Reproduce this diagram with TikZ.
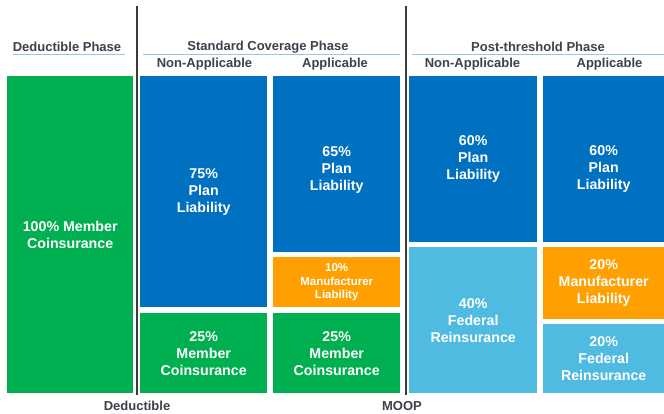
\documentclass[tikz,border=0pt]{standalone}
\usepackage{fontspec}
\setmainfont{Liberation Sans}
\definecolor{cgreen}{HTML}{00B050}
\definecolor{cblue}{HTML}{0070C0}
\definecolor{corange}{HTML}{FFA000}
\definecolor{clight}{HTML}{4FBBE0}
\definecolor{ctext}{HTML}{3C414B}
\definecolor{cline}{HTML}{9DC3E6}
\definecolor{cdiv}{HTML}{3A3A3A}
\tikzset{
  cell/.style={fill=#1, draw=none, inner sep=0pt, anchor=north west,
    text=white, align=center, font=\bfseries\fontsize{14.2}{17}\selectfont},
  smallcell/.style={cell=#1, font=\bfseries\fontsize{11.5}{13.5}\selectfont},
  phase/.style={text=ctext, font=\bfseries\fontsize{13}{15}\selectfont, inner sep=0pt},
  sub/.style={text=ctext, font=\bfseries\fontsize{13}{15}\selectfont, inner sep=0pt},
  rule/.style={draw=cline, line width=1pt},
  divider/.style={draw=cdiv, line width=2pt}
}
\newcommand{\cellbox}[7]{% style, name, x0, y0, x1, y1, text
  \node[#1, minimum width=#5pt-#3pt, minimum height=#6pt-#4pt] (#2) at (#3,#4) {};
  \node[#1, fill=none, anchor=center] at (#2.center) {#7};
}
\begin{document}
\begin{tikzpicture}[x=1pt, y=-1pt]
  \useasboundingbox (0,0) rectangle (664,414);
  \fill[white] (0,0) rectangle (664,414);

  % phase headings and their rules
  \node[phase] (hded) at (67,47) {Deductible Phase};
  \draw[rule] (13,55) -- (125,55);
  \node[phase] (hstd) at (268,47) {Standard Coverage Phase};
  \draw[rule] (143,55) -- (400,55);
  \node[phase] (hpost) at (538,47) {Post-threshold Phase};
  \draw[rule] (412,55) -- (664,55);

  % column headings
  \node[sub] (sna) at (204.5,64) {Non-Applicable};
  \node[sub] (sap) at (335,64) {Applicable};
  \node[sub] (pna) at (472.5,64) {Non-Applicable};
  \node[sub] (pap) at (609.5,64) {Applicable};

  % deductible phase
  \cellbox{cell=cgreen}{ded}{7}{76}{133}{393}{100\% Member\\Coinsurance}

  % standard coverage, non-applicable
  \cellbox{cell=cblue}{snab}{140}{76}{267}{307}{75\%\\Plan\\Liability}
  \cellbox{cell=cgreen}{snag}{140}{313}{267}{393}{25\%\\Member\\Coinsurance}

  % standard coverage, applicable
  \node[cell=cblue, minimum width=127pt, minimum height=176pt] (sab) at (273,76) {};
  \node[cell=cblue, fill=none, anchor=center] at ([yshift=-6pt]sab.center) {65\%\\Plan\\Liability};
  \cellbox{smallcell=corange}{sao}{273}{257}{400}{307}{10\%\\Manufacturer\\Liability}
  \cellbox{cell=cgreen}{sag}{273}{313}{400}{393}{25\%\\Member\\Coinsurance}

  % post-threshold, non-applicable
  \cellbox{cell=cblue}{pnab}{409}{76}{537}{242}{60\%\\Plan\\Liability}
  \cellbox{cell=clight}{pnal}{409}{247}{537}{393}{40\%\\Federal\\Reinsurance}

  % post-threshold, applicable
  \node[cell=cblue, minimum width=121pt, minimum height=166pt] (pab) at (543,76) {};
  \node[cell=cblue, fill=none, anchor=center] at ([yshift=-10pt]pab.center) {60\%\\Plan\\Liability};
  \cellbox{cell=corange}{pao}{543}{247}{664}{319}{20\%\\Manufacturer\\Liability}
  \cellbox{cell=clight}{pal}{543}{324}{664}{393}{20\%\\Federal\\Reinsurance}

  % phase dividers and threshold labels
  \coordinate (d1top) at (137,6);
  \coordinate (d1bot) at (137,395);
  \coordinate (d2top) at (406,6);
  \coordinate (d2bot) at (406,395);
  \draw[divider] (d1top) -- (d1bot);
  \draw[divider] (d2top) -- (d2bot);
  \node[sub] (lded) at (137,406) {Deductible};
  \node[sub] (lmoop) at (402,406) {MOOP};
\end{tikzpicture}
\end{document}
